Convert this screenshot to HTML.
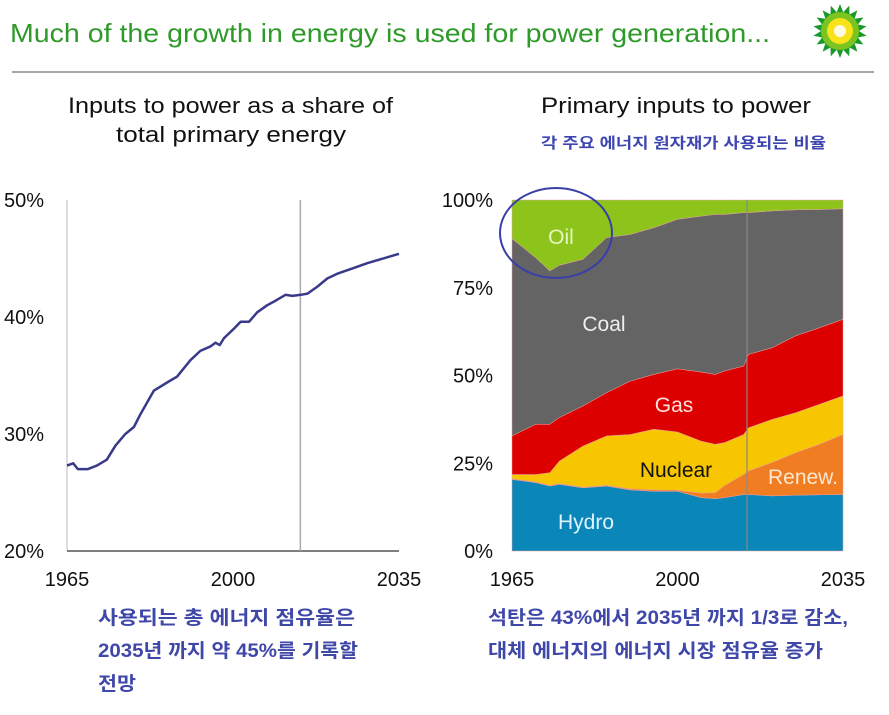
<!DOCTYPE html>
<html><head><meta charset="utf-8"><style>
body{margin:0;background:#fff;width:889px;height:710px;overflow:hidden;font-family:"Liberation Sans","Noto Sans CJK KR",sans-serif}
</style></head><body>
<svg width="889" height="710" xmlns="http://www.w3.org/2000/svg" id="root">
<text x="10" y="42" font-size="26" fill="#2f9a2a" font-family="Liberation Sans, sans-serif" textLength="760" lengthAdjust="spacingAndGlyphs">Much of the growth in energy is used for power generation...</text>
<line x1="12" y1="72" x2="874" y2="72" stroke="#888" stroke-width="1.5"/>
<g id="logo"></g>
<text x="68" y="113" font-size="22" fill="#111" textLength="325" lengthAdjust="spacingAndGlyphs">Inputs to power as a share of</text>
<text x="116" y="142" font-size="22" fill="#111" textLength="230" lengthAdjust="spacingAndGlyphs">total primary energy</text>
<text x="541" y="113" font-size="22" fill="#111" textLength="270" lengthAdjust="spacingAndGlyphs">Primary inputs to power</text>
<text x="541" y="148" font-size="15" fill="#3d46b0" font-weight="bold" textLength="285" lengthAdjust="spacingAndGlyphs" font-family="Liberation Sans, Noto Sans CJK KR, sans-serif">각 주요 에너지 원자재가 사용되는 비율</text>
<g id="left"></g>
<g id="right"></g>
<g fill="#3f47a8" font-size="19" font-weight="bold" font-family="Liberation Sans, Noto Sans CJK KR, sans-serif" lengthAdjust="spacingAndGlyphs">
<text x="98" y="624" textLength="257" lengthAdjust="spacingAndGlyphs">사용되는 총 에너지 점유율은</text>
<text x="98" y="657" textLength="260" lengthAdjust="spacingAndGlyphs">2035년 까지 약 45%를 기록할</text>
<text x="98" y="690" textLength="38" lengthAdjust="spacingAndGlyphs">전망</text>
<text x="488" y="624" textLength="360" lengthAdjust="spacingAndGlyphs">석탄은 43%에서 2035년 까지 1/3로 감소,</text>
<text x="488" y="657" textLength="335" lengthAdjust="spacingAndGlyphs">대체 에너지의 에너지 시장 점유율 증가</text>
</g>
</svg>
<script>
// Left chart data
const lineYears=[1965,1966.3,1967.3,1969.4,1971.3,1973.4,1975.2,1977.3,1979.1,1980.5,1983.3,1986.1,1988.2,1991,1993.1,1995.3,1996.3,1997.2,1998.1,2000.2,2001.6,2003.4,2005.1,2007.2,2009,2011.1,2012.5,2014.3,2015.7,2017.8,2019.9,2022,2025.5,2028.3,2035];
const lineValues=[27.3,27.5,27.0,27.0,27.3,27.8,29.0,30.0,30.6,31.7,33.7,34.4,34.9,36.3,37.1,37.5,37.8,37.6,38.2,39.0,39.6,39.6,40.4,41.0,41.4,41.9,41.8,41.9,42.0,42.6,43.3,43.7,44.2,44.6,45.4];
const leftYTicks=[20,30,40,50];
const xTickYears=[1965,2000,2035];
// Right chart data
const areaYears=[1965,1970,1973,1975,1980,1985,1990,1995,2000,2005,2008,2010,2014,2015,2020,2025,2030,2035];
const hydro=[20.4,19.5,18.5,19,18,18.5,17.4,17,17,15.2,14.9,15.2,16.1,16.1,15.7,15.9,16,16.1];
const renew=[0.2,0.2,0.2,0.2,0.2,0.2,0.3,0.4,0.3,1.3,1.7,3.5,5.7,6.7,9.5,12.1,14.4,17.1];
const nuclear=[1.2,2.1,3.6,6.4,11.7,14.1,15.5,17.3,16.6,14.8,13.8,12.2,11.4,12.3,12.3,11.4,11.4,11.0];
const gas=[11,14.3,13.8,12.4,11.4,12.3,15.2,15.6,18,19.7,19.9,20.4,19.5,20.9,20.4,21.9,21.8,21.8];
const coal=[56.2,47.5,43.7,43.4,41.8,44.2,41.8,41.8,42.6,44.4,45.6,44.6,43.7,40.4,39,35.9,33.7,31.5];
const oil=[11,16.4,20.2,18.6,16.9,10.7,9.8,7.9,5.5,4.6,4.1,4.1,3.6,3.6,3.1,2.8,2.7,2.5];
const rightYTicks=[0,25,50,75,100];

const NS='http://www.w3.org/2000/svg';
function mk(tag,attrs,parent,text){const e=document.createElementNS(NS,tag);for(const k in attrs)e.setAttribute(k,attrs[k]);if(text!==undefined)e.textContent=text;parent.appendChild(e);return e;}

// logo
const logo=document.getElementById('logo');
(function(){const cx=840,cy=31;let p='';const n=18;
for(let i=0;i<n*2;i++){const a=i*Math.PI/n;const r=i%2?19:27;p+=(i?'L':'M')+(cx+r*Math.sin(a)).toFixed(1)+','+(cy-r*Math.cos(a)).toFixed(1);}
const s=mk('path',{d:p+'Z',fill:'#1a9a2a'},logo);


const c2=mk('circle',{cx:cx,cy:cy,r:19,fill:'#7cc520'},logo);


const c3=mk('circle',{cx:cx,cy:cy,r:13,fill:'#f8e21a'},logo);


const c4=mk('circle',{cx:cx,cy:cy,r:6,fill:'#fffbe0'},logo);


})();

// Left chart
const L=document.getElementById('left');
const lx=y=>67+(y-1965)/70*332;
const ly=v=>551-(v-20)/30*351;
xTickYears.forEach(y=>{const t=mk('text',{x:lx(y),y:586,'font-size':20,'text-anchor':'middle',fill:'#111'},L,String(y));

});
leftYTicks.forEach(v=>{const t=mk('text',{x:4,y:ly(v)+7,'font-size':20,fill:'#111'},L,v+'%');

});
let la=mk('line',{x1:67,y1:200,x2:67,y2:551,stroke:'#bbb','stroke-width':1},L);


let lxa=mk('line',{x1:67,y1:551,x2:399,y2:551,stroke:'#555','stroke-width':1.5},L);


let lv=mk('line',{x1:lx(2014.2),y1:200,x2:lx(2014.2),y2:551,stroke:'#aaa','stroke-width':1.5},L);


let lp=mk('path',{d:lineYears.map((y,i)=>(i?'L':'M')+lx(y).toFixed(1)+','+ly(lineValues[i]).toFixed(1)).join(''),fill:'none',stroke:'#3a3a8a','stroke-width':2.5,'stroke-linejoin':'round'},L);



// Right chart
const R=document.getElementById('right');
const rx=y=>512+(y-1965)/70*331;
const ry=v=>551-v/100*351;
const series=[['hydro',hydro,'#0a86b8'],['renewables',renew,'#f07d22'],['nuclear',nuclear,'#f7c600'],['gas',gas,'#dd0000'],['coal',coal,'#646464'],['oil',oil,'#8cc41c']];
let base=areaYears.map(()=>0);
series.forEach(([name,vals,col])=>{
  const top=base.map((b,i)=>b+vals[i]);
  let d=areaYears.map((y,i)=>(i?'L':'M')+rx(y).toFixed(1)+','+ry(top[i]).toFixed(1)).join('');
  for(let i=areaYears.length-1;i>=0;i--)d+='L'+rx(areaYears[i]).toFixed(1)+','+ry(base[i]).toFixed(1);
  const p=mk('path',{d:d+'Z',fill:col,stroke:'#e8a0a0','stroke-width':0.5},R);
  
  
  base=top;
});
let rv=mk('line',{x1:747,y1:200,x2:747,y2:551,stroke:'#888','stroke-width':1.2},R);


rightYTicks.forEach(v=>{const t=mk('text',{x:493,y:ry(v)+7,'font-size':20,'text-anchor':'end',fill:'#111'},R,v+'%');

});
xTickYears.forEach(y=>{const t=mk('text',{x:rx(y),y:586,'font-size':20,'text-anchor':'middle',fill:'#111'},R,String(y));

});
const labels=[['Oil',561,244,'#e8f5c0'],['Coal',604,331,'#eee'],['Gas',674,412,'#ffe0e0'],['Nuclear',676,477,'#111'],['Renew.',803,484,'#ffe8d0'],['Hydro',586,529,'#e0f4ff']];
labels.forEach(([t,x,y,c])=>{const e=mk('text',{x:x,y:y,'font-size':21,'text-anchor':'middle',fill:c},R,t);

});
let el=mk('ellipse',{cx:556,cy:233,rx:56,ry:45,fill:'none',stroke:'#3a3ea8','stroke-width':2},R);


</script>
</body></html>
